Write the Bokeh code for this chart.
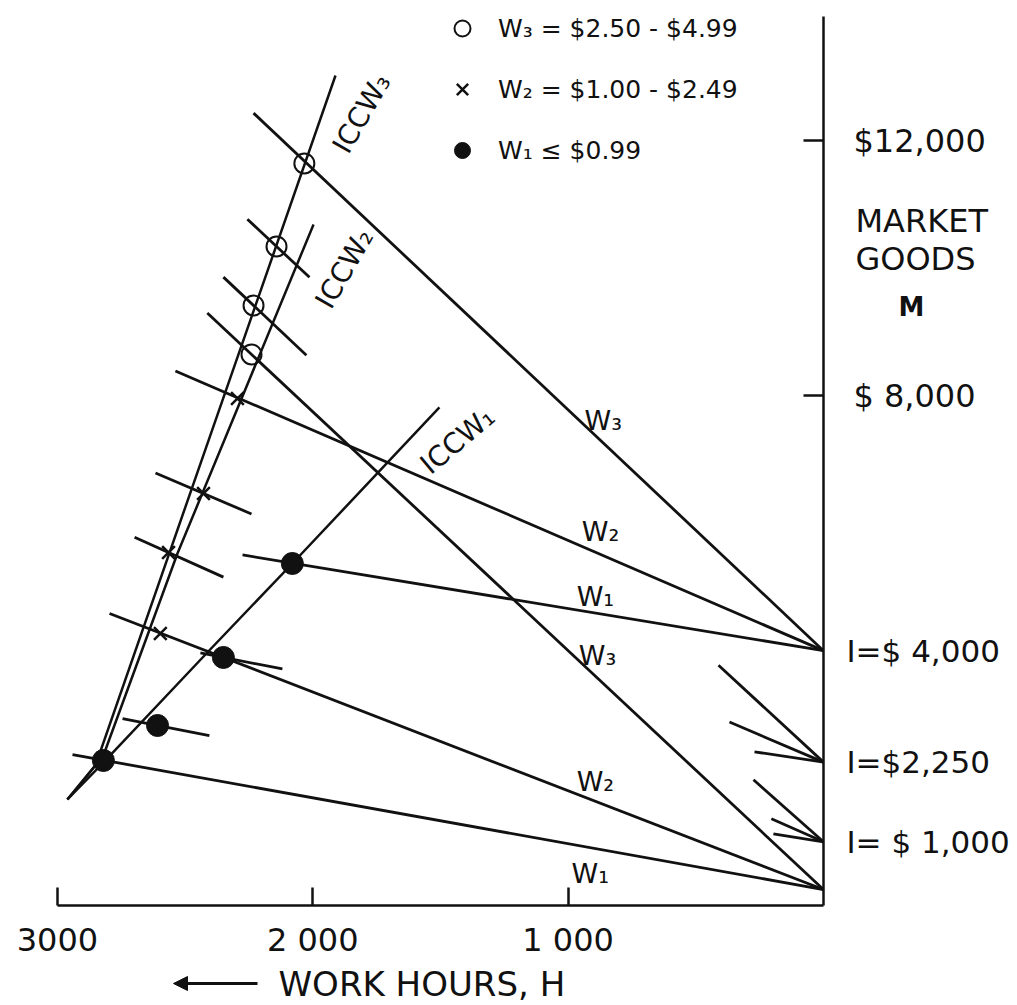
from bokeh.plotting import figure
from bokeh.models import (Range1d, FixedTicker, Label, Arrow, NormalHead,
                          Legend, LegendItem, LinearAxis)
from bokeh.core.properties import value
from bokeh.embed import file_html
from bokeh.resources import INLINE

FONT = "DejaVu Sans"
INK = "#111111"

# Non-labour income levels marked on the goods axis ($)
income_levels = [4000, 2250, 1000]
income_labels = ["I=$ 4,000", "I=$2,250", "I= $ 1,000"]

# Budget lines M = I + W*H : income, hourly wage, hours reached on the left
budget_income = [4000, 4000, 4000, 250, 250, 250, 2250, 2250, 2250, 1000, 1000, 1000]
budget_wage = [3.78, 1.73, 0.66, 3.75, 1.55, 0.72, 3.70, 1.71, 0.60, 3.55, 1.77, 0.64]
budget_hours = [2232, 2538, 2275, 2413, 2796, 2941, 411, 368, 270, 274, 204, 196]

# Chosen (hours, goods) points for each wage class
w3_hours = [2033, 2142, 2232, 2240]
w3_goods = [11647, 10344, 9418, 8649]
w2_hours = [2295, 2428, 2565, 2597]
w2_goods = [7958, 6467, 5541, 4269]
w1_hours = [2080, 2350, 2608, 2820]
w1_goods = [5368, 3893, 2825, 2276]

# Short indifference-curve slices through chosen points
slice_hours = [2142, 2232, 2428, 2565, 2350, 2608]
slice_goods = [10344, 9418, 6467, 5541, 3893, 2825]
slice_wage = [3.75, 3.77, 1.71, 1.80, 0.78, 0.79]
slice_left = [114, 118, 188, 133, 90, 137]
slice_right = [129, 207, 188, 215, 231, 203]

# Income-consumption curves
icc3_hours = [1911, 2851, 2961]
icc3_goods = [13028, 2197, 1664]
icc2_hours = [1997, 2342, 2530, 2820, 2961]
icc2_goods = [10689, 7346, 5525, 2354, 1664]
icc1_hours = [1504, 2080, 2413, 2812, 2961]
icc1_goods = [7817, 5368, 3971, 2276, 1664]

icc_text = ["ICCW₃", "ICCW₂", "ICCW₁"]
icc_hours = [1809, 1876, 1433]
icc_goods = [12431, 9998, 7299]
icc_angle = [60, 60, 40]

wage_text = ["W₃", "W₂", "W₁", "W₃", "W₂", "W₁"]
wage_hours = [862, 873, 893, 885, 893, 913]
wage_goods = [7613, 5870, 4850, 3924, 1946, 502]

legend_text = ["W₃ = $2.50 - $4.99", "W₂ = $1.00 - $2.49", "W₁ ≤ $0.99"]

hour_ticks = [3000, 2000, 1000]
hour_tick_labels = ["3000", "2 000", "1 000"]
goods_ticks = [12000, 8000]
goods_tick_labels = ["$12,000", "$ 8,000"]

# the frame fills the canvas; both axes are pinned at zero inside it
p = figure(width=1017, height=1005,
           x_range=Range1d(3223, -760), y_range=Range1d(-1570, 14205),
           x_axis_location=None, y_axis_location=None,
           output_backend="svg", toolbar_location=None, min_border=0)
p.grid.visible = False
p.outline_line_color = None
p.background_fill_color = "white"
p.border_fill_color = "white"


def style_axis(ax, tick_len, standoff):
    ax.major_tick_in = tick_len
    ax.major_tick_out = 0
    ax.minor_tick_in = 0
    ax.minor_tick_out = 0
    ax.axis_line_width = 2.5
    ax.axis_line_color = INK
    ax.major_tick_line_width = 2.5
    ax.major_tick_line_color = INK
    ax.major_label_text_font = FONT
    ax.major_label_text_font_size = "32px"
    ax.major_label_text_color = INK
    ax.major_label_standoff = standoff


xa = LinearAxis(ticker=FixedTicker(ticks=hour_ticks, minor_ticks=[]),
                major_label_overrides=dict(zip(hour_ticks, hour_tick_labels)),
                fixed_location=0, bounds=(0, 3000))
style_axis(xa, 18, 16)
p.add_layout(xa, "below")

ya = LinearAxis(ticker=FixedTicker(ticks=goods_ticks, minor_ticks=[]),
                major_label_overrides=dict(zip(goods_ticks, goods_tick_labels)),
                fixed_location=0, bounds=(0, 13950))
style_axis(ya, 20, 30)
p.add_layout(ya, "right")

# budget lines
by1 = [i + w * h for i, w, h in zip(budget_income, budget_wage, budget_hours)]
p.segment(x0=[0] * len(budget_income), y0=budget_income, x1=budget_hours, y1=by1,
          line_color=INK, line_width=2.8)

# indifference-curve slices
sx0 = [h + l for h, l in zip(slice_hours, slice_left)]
sy0 = [g + w * l for g, w, l in zip(slice_goods, slice_wage, slice_left)]
sx1 = [h - r for h, r in zip(slice_hours, slice_right)]
sy1 = [g - w * r for g, w, r in zip(slice_goods, slice_wage, slice_right)]
p.segment(x0=sx0, y0=sy0, x1=sx1, y1=sy1, line_color=INK, line_width=2.8)

# income-consumption curves
for hs, gs in ((icc3_hours, icc3_goods), (icc2_hours, icc2_goods), (icc1_hours, icc1_goods)):
    p.line(hs, gs, line_color=INK, line_width=2.5)

# chosen points
r3 = p.scatter(w3_hours, w3_goods, marker="circle", size=20, fill_color=None,
               line_color=INK, line_width=2)
r2 = p.scatter(w2_hours, w2_goods, marker="x", size=18, line_color=INK, line_width=2.5)
r1 = p.scatter(w1_hours, w1_goods, marker="circle", size=22, fill_color=INK,
               line_color=INK)

# curve and line labels
p.text(x=icc_hours, y=icc_goods, text=icc_text, angle=icc_angle, angle_units="deg",
       text_font=value(FONT), text_font_size="28px", text_color=INK,
       text_align="center", text_baseline="middle")
p.text(x=wage_hours, y=wage_goods, text=wage_text,
       text_font=value(FONT), text_font_size="27px", text_color=INK,
       text_align="center", text_baseline="middle")

legend = Legend(items=[LegendItem(label=legend_text[0], renderers=[r3]),
                       LegendItem(label=legend_text[1], renderers=[r2]),
                       LegendItem(label=legend_text[2], renderers=[r1])],
                location=(442, 835), orientation="vertical",
                border_line_color=None, background_fill_alpha=0,
                padding=0, margin=0, spacing=21,
                glyph_height=40, glyph_width=40, label_height=40,
                label_standoff=16, label_text_font=FONT,
                label_text_font_size="25px", label_text_color=INK,
                label_text_baseline="middle")
p.add_layout(legend)

# income labels beside the goods axis
for inc, txt in zip(income_levels, income_labels):
    p.add_layout(Label(x=0, y=inc, x_offset=23, text=txt, text_font=FONT,
                       text_font_size="31px", text_color=INK,
                       text_align="left", text_baseline="middle"))

# goods axis title
for txt, yy, dx, size, weight in (("MARKET", 785, 32, "32px", "normal"),
                                  ("GOODS", 747, 32, "32px", "normal"),
                                  ("M", 699, 75, "26px", "bold")):
    p.add_layout(Label(x=0, y=yy, y_units="screen", x_offset=dx, text=txt,
                       text_font=FONT, text_font_size=size, text_font_style=weight,
                       text_color=INK, text_align="left", text_baseline="middle"))

# hours axis title with direction arrow
p.add_layout(Label(x=278, y=22, x_units="screen", y_units="screen",
                   text="WORK HOURS, H", text_font=FONT, text_font_size="34px",
                   text_color=INK, text_align="left", text_baseline="middle"))
p.add_layout(Arrow(x_start=257, y_start=22, x_end=173, y_end=22,
                   start_units="screen", end_units="screen",
                   line_color=INK, line_width=3,
                   end=NormalHead(size=14, fill_color=INK, line_color=INK)))

open("out.html", "w").write(file_html(p, INLINE))
